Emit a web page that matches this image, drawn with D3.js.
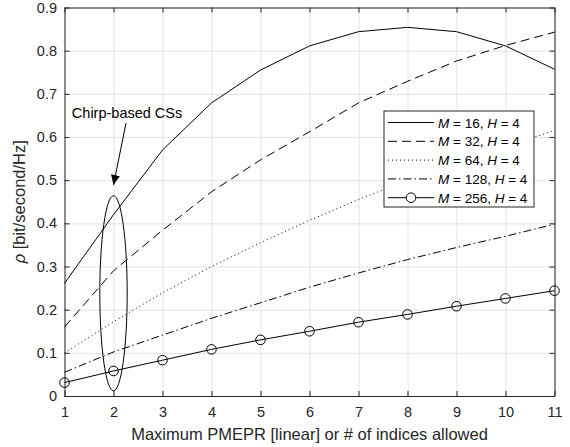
<!DOCTYPE html>
<html>
<head>
<meta charset="utf-8">
<script src="https://cdn.jsdelivr.net/npm/d3@7"></script>
<style>
  body { margin: 0; background: #fff; }
  svg { font-family: "Liberation Sans", Arial, sans-serif; }
  .grid line { stroke: #e3e3e3; stroke-width: 1; }
  .grid path { display: none; }
  .ejes path, .ejes line { stroke: #262626; }
  .ejes text { fill: #262626; font-size: 14.5px; }
</style>
</head>
<body>
<div id="graf"></div>
<script>
// datos
const pmepr = [1, 2, 3, 4, 5, 6, 7, 8, 9, 10, 11]
const m16 = [0.261, 0.42, 0.57, 0.679, 0.755, 0.811, 0.844, 0.854, 0.844, 0.811, 0.757]
const m32 = [0.16, 0.29, 0.384, 0.473, 0.547, 0.612, 0.679, 0.729, 0.776, 0.812, 0.843]
const m64 = [0.10, 0.172, 0.239, 0.30, 0.355, 0.407, 0.455, 0.50, 0.54, 0.578, 0.615]
const m128 = [0.055, 0.102, 0.141, 0.18, 0.216, 0.252, 0.285, 0.316, 0.344, 0.370, 0.398]
const m256 = [0.031, 0.058, 0.083, 0.108, 0.130, 0.150, 0.171, 0.189, 0.208, 0.226, 0.244]
const etiquetasM = ["16", "32", "64", "128", "256"]
const xTicks = [1, 2, 3, 4, 5, 6, 7, 8, 9, 10, 11]
const yTicks = [0, 0.1, 0.2, 0.3, 0.4, 0.5, 0.6, 0.7, 0.8, 0.9]

const series = [
  { vals: m16, dash: null, marker: false },
  { vals: m32, dash: "9,5", marker: false },
  { vals: m64, dash: "1,3", marker: false },
  { vals: m128, dash: "8,3,1.5,3", marker: false },
  { vals: m256, dash: null, marker: true },
]

const margins = { left: 64.5, top: 7.5, right: 15.5, bottom: 51 }
const anchoTotal = 570
const altoTotal = 447
const ancho = anchoTotal - margins.left - margins.right
const alto = altoTotal - margins.top - margins.bottom

const svg = d3.select("#graf")
  .append("svg")
  .attr("width", anchoTotal)
  .attr("height", altoTotal)

const g = svg.append("g")
  .attr("transform", `translate(${margins.left}, ${margins.top})`)

const x = d3.scaleLinear().domain([1, 11]).range([0, ancho])
const y = d3.scaleLinear().domain([0, 0.9]).range([alto, 0])

// rejilla
g.append("g").attr("class", "grid")
  .attr("transform", `translate(0, ${alto})`)
  .call(d3.axisBottom(x).tickValues(xTicks).tickSize(-alto).tickFormat(""))
g.append("g").attr("class", "grid")
  .call(d3.axisLeft(y).tickValues(yTicks).tickSize(-ancho).tickFormat(""))

// ejes (caja completa, marcas hacia dentro)
const fmtY = (d) => (d === 0 ? "0" : d3.format(".1f")(d))
g.append("g").attr("class", "ejes")
  .attr("transform", `translate(0, ${alto})`)
  .call(d3.axisBottom(x).tickValues(xTicks).tickSizeInner(-5).tickSizeOuter(0).tickPadding(11))
g.append("g").attr("class", "ejes")
  .call(d3.axisLeft(y).tickValues(yTicks).tickSizeInner(-5).tickSizeOuter(0).tickPadding(7.5).tickFormat(fmtY))
g.append("g").attr("class", "ejes")
  .call(d3.axisTop(x).tickValues(xTicks).tickSizeInner(-5).tickSizeOuter(0).tickFormat(""))
g.append("g").attr("class", "ejes")
  .attr("transform", `translate(${ancho}, 0)`)
  .call(d3.axisRight(y).tickValues(yTicks).tickSizeInner(-5).tickSizeOuter(0).tickFormat(""))

// etiquetas de ejes
g.append("text")
  .attr("x", ancho / 2)
  .attr("y", alto + 44)
  .attr("text-anchor", "middle")
  .attr("font-size", 16.5)
  .attr("fill", "#262626")
  .text("Maximum PMEPR [linear] or # of indices allowed")

const yl = g.append("text")
  .attr("transform", `translate(-40, ${alto / 2}) rotate(-90)`)
  .attr("text-anchor", "middle")
  .attr("font-size", 16.5)
  .attr("fill", "#262626")
yl.append("tspan").attr("font-style", "italic").text("ρ")
yl.append("tspan").text(" [bit/second/Hz]")

// curvas
const linea = d3.line().x((d, i) => x(pmepr[i])).y((d) => y(d))
series.forEach((s) => {
  g.append("path")
    .datum(s.vals)
    .attr("d", linea)
    .attr("fill", "none")
    .attr("stroke", "#000")
    .attr("stroke-width", 1)
    .attr("stroke-dasharray", s.dash)
  if (s.marker) {
    g.selectAll(null)
      .data(s.vals)
      .enter()
      .append("circle")
      .attr("cx", (d, i) => x(pmepr[i]))
      .attr("cy", (d) => y(d))
      .attr("r", 4.8)
      .attr("fill", "none")
      .attr("stroke", "#000")
  }
})

// anotacion: elipse + flecha + texto
g.append("ellipse")
  .attr("cx", x(2))
  .attr("cy", y(0.238))
  .attr("rx", 13.7)
  .attr("ry", y(0.012) - y(0.238))
  .attr("fill", "none")
  .attr("stroke", "#000")
  .attr("stroke-width", 1)

svg.append("defs").append("marker")
  .attr("id", "punta")
  .attr("viewBox", "0 0 10 10")
  .attr("refX", 10).attr("refY", 5)
  .attr("markerWidth", 10).attr("markerHeight", 10)
  .attr("markerUnits", "userSpaceOnUse")
  .attr("orient", "auto")
  .append("path")
  .attr("d", "M0,0.5 L10,5 L0,9.5 Z")
  .attr("fill", "#000")

g.append("line")
  .attr("x1", x(2.255)).attr("y1", y(0.632))
  .attr("x2", x(2)).attr("y2", y(0.489))
  .attr("stroke", "#000")
  .attr("stroke-width", 1)
  .attr("marker-end", "url(#punta)")

g.append("text")
  .attr("x", x(1.15))
  .attr("y", y(0.645))
  .attr("font-size", 14.5)
  .attr("fill", "#000")
  .text("Chirp-based CSs")

// leyenda
const leg = g.append("g").attr("transform", `translate(${384 - margins.left}, ${111 - margins.top})`)
leg.append("rect")
  .attr("width", 150).attr("height", 96)
  .attr("fill", "#fff")
  .attr("stroke", "#262626")
  .attr("stroke-width", 1)
series.forEach((s, i) => {
  const yy = 11.5 + i * 18.8
  leg.append("line")
    .attr("x1", 4).attr("x2", 50)
    .attr("y1", yy).attr("y2", yy)
    .attr("stroke", "#000")
    .attr("stroke-dasharray", s.dash)
  if (s.marker) {
    leg.append("circle").attr("cx", 27).attr("cy", yy).attr("r", 4.8)
      .attr("fill", "#fff").attr("stroke", "#000")
  }
  const t = leg.append("text")
    .attr("x", 54).attr("y", yy + 5)
    .attr("font-size", 13.5)
    .attr("fill", "#000")
  t.append("tspan").attr("font-style", "italic").text("M")
  t.append("tspan").text(` = ${etiquetasM[i]},  `)
  t.append("tspan").attr("font-style", "italic").text("H")
  t.append("tspan").text(" = 4")
})
</script>
</body>
</html>
